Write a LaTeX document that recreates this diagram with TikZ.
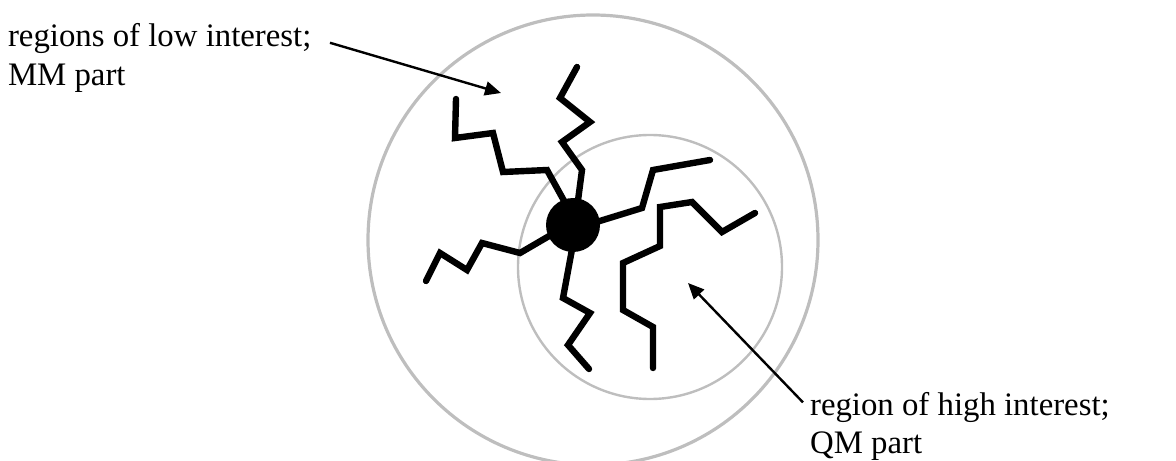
\documentclass[tikz,border=0pt]{standalone}
\usepackage{fontspec}
\setmainfont{Liberation Serif}
\usepackage{tikz}
\usetikzlibrary{arrows.meta,positioning}
\definecolor{ringgray}{HTML}{BEBEBE}

\begin{document}
\begin{tikzpicture}[
  x=0.5pt,y=-0.5pt,
  lbl/.style={anchor=base west,font=\fontsize{16.4}{19}\selectfont},
  ring/.style={draw=ringgray},
  chain/.style={line width=3.2pt,line cap=round,line join=miter},
  core/.style={circle,fill=black,minimum size=27pt,inner sep=0pt},
  pointer/.style={-{Triangle[length=8pt,width=7pt]},line width=1.2pt}]
  \useasboundingbox (0,0) rectangle (1176,460);
  % QM/MM regions
  \draw[ring,line width=1.6pt] (593,240) circle[radius=225];
  \draw[ring,line width=1.2pt] (650,267) circle[radius=132];
  % chains
  \draw[chain] (568,208) -- (547,170) -- (503,172) -- (493,133) -- (455,138) -- (456,99);
  \draw[chain] (577,208) -- (582,170) -- (562,142) -- (590,122) -- (560,98) -- (577,67);
  \draw[chain] (590,224) -- (642,208) -- (653,170) -- (710,160);
  \draw[chain] (556,232) -- (520,253) -- (482,243) -- (467,270) -- (440,253) -- (426,281);
  \draw[chain] (573,244) -- (563,298) -- (590,313) -- (568,345) -- (589,369);
  \draw[chain] (755,213) -- (722,232) -- (692,202) -- (660,207) -- (660,246)
    -- (623,263) -- (623,310) -- (653,327) -- (653,368);
  \node[core] (core) at (573,225) {};
  % labels
  \node[lbl] (low1) at (1,47) {regions of low interest;};
  \node[lbl] (low2) at (1,85) {MM part};
  \node[lbl] (high1) at (803,415) {region of high interest;};
  \node[lbl] (high2) at (803,453) {QM part};
  \coordinate (lowtip) at (501,93);
  \coordinate (hightip) at (688,283);
  \draw[pointer,shorten <=6pt] ([yshift=1.5pt]low1.mid east) -- (lowtip);
  \draw[pointer] ([yshift=4pt]high1.mid west) -- (hightip);
\end{tikzpicture}
\end{document}
